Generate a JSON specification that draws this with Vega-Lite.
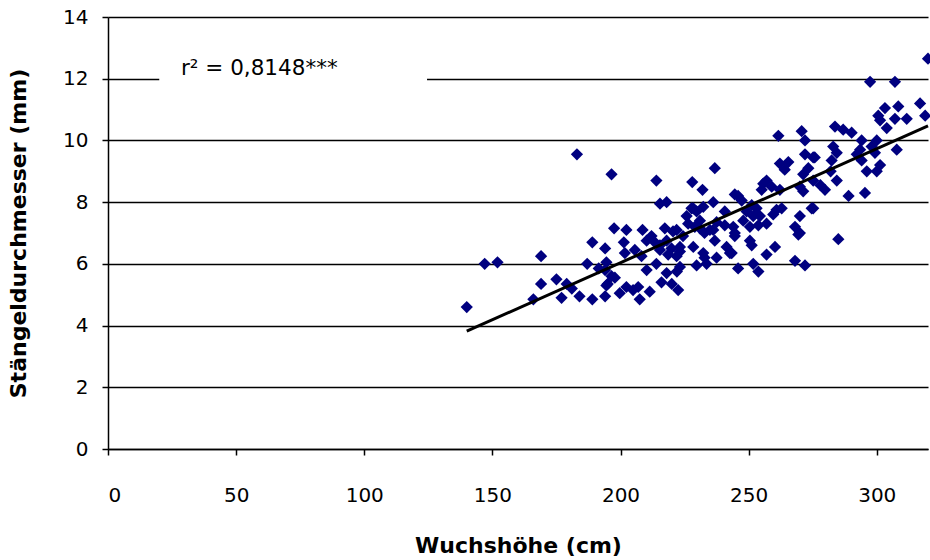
{
  "$schema": "https://vega.github.io/schema/vega-lite/v6.json",
  "width": 820,
  "height": 432,
  "autosize": {"type": "none"},
  "padding": {"left": 108, "top": 17, "right": 2, "bottom": 111},
  "background": "white",
  "config": {
    "view": {"stroke": null},
    "font": "DejaVu Sans",
    "axis": {
      "labelFont": "DejaVu Sans",
      "titleFont": "DejaVu Sans",
      "labelFontSize": 20,
      "titleFontSize": 22,
      "labelColor": "black",
      "titleColor": "black",
      "titleFontWeight": "bold",
      "domainColor": "black",
      "domainWidth": 1.5,
      "tickColor": "black",
      "tickWidth": 1.5,
      "tickSize": 6,
      "gridColor": "black",
      "gridWidth": 1.5,
      "gridOpacity": 1
    }
  },
  "datasets": {
    "trend": [{"h": 140, "d": 3.82}, {"h": 320, "d": 10.47}],
    "note": [{"label": "r² = 0,8148***", "x": 28.5, "y": 12.3}]
  },
  "data": {
    "values": [
      {"h": 140, "d": 4.6}, {"h": 147, "d": 6.0}, {"h": 152, "d": 6.05}, {"h": 166, "d": 4.85},
      {"h": 169, "d": 6.25}, {"h": 169, "d": 5.35}, {"h": 175, "d": 5.5}, {"h": 177, "d": 4.9},
      {"h": 179, "d": 5.35}, {"h": 181, "d": 5.2}, {"h": 183, "d": 9.55}, {"h": 184, "d": 4.95},
      {"h": 187, "d": 6.0}, {"h": 189, "d": 6.7}, {"h": 189, "d": 4.85}, {"h": 191.5, "d": 5.85},
      {"h": 194, "d": 6.5}, {"h": 194, "d": 4.95}, {"h": 194.5, "d": 6.05}, {"h": 195, "d": 5.35},
      {"h": 196.5, "d": 5.6}, {"h": 196.5, "d": 8.9}, {"h": 197.5, "d": 7.15}, {"h": 194, "d": 5.8},
      {"h": 194.5, "d": 5.3}, {"h": 197.8, "d": 5.55}, {"h": 199.7, "d": 5.05}, {"h": 202.3, "d": 5.25},
      {"h": 204.9, "d": 5.15}, {"h": 206.9, "d": 5.25}, {"h": 207.5, "d": 4.85}, {"h": 211.4, "d": 5.1},
      {"h": 210.2, "d": 5.8}, {"h": 208.2, "d": 6.25}, {"h": 214, "d": 6.0}, {"h": 216, "d": 5.4},
      {"h": 218, "d": 5.7}, {"h": 220, "d": 5.35}, {"h": 222.5, "d": 5.15}, {"h": 222, "d": 5.75},
      {"h": 218.6, "d": 6.3}, {"h": 223.2, "d": 5.9}, {"h": 202.3, "d": 7.1}, {"h": 208.6, "d": 7.1},
      {"h": 201.3, "d": 6.7}, {"h": 201.7, "d": 6.35}, {"h": 205.6, "d": 6.45}, {"h": 212.1, "d": 6.9},
      {"h": 213.4, "d": 6.7}, {"h": 210.2, "d": 6.75}, {"h": 215.4, "d": 6.45}, {"h": 221.9, "d": 7.1},
      {"h": 219.9, "d": 6.5}, {"h": 223.2, "d": 6.55}, {"h": 221.9, "d": 6.25}, {"h": 225.8, "d": 7.55},
      {"h": 227.7, "d": 7.8}, {"h": 229.7, "d": 7.7}, {"h": 231, "d": 7.4}, {"h": 229, "d": 7.2},
      {"h": 232.3, "d": 7.85}, {"h": 236.2, "d": 8.0}, {"h": 237.5, "d": 7.35}, {"h": 234.9, "d": 7.1},
      {"h": 229.7, "d": 5.95}, {"h": 233.6, "d": 6.0}, {"h": 237.5, "d": 6.2}, {"h": 214, "d": 8.7},
      {"h": 228, "d": 8.65}, {"h": 236.8, "d": 9.1}, {"h": 215.4, "d": 7.95}, {"h": 218, "d": 8.0},
      {"h": 232, "d": 8.4}, {"h": 217.3, "d": 7.15}, {"h": 218, "d": 6.75}, {"h": 215.4, "d": 6.6},
      {"h": 220.5, "d": 7.05}, {"h": 224.4, "d": 6.9}, {"h": 226.4, "d": 7.3}, {"h": 228.4, "d": 7.8},
      {"h": 231, "d": 7.15}, {"h": 232.8, "d": 7.0}, {"h": 236.8, "d": 6.75}, {"h": 228.4, "d": 6.55},
      {"h": 223.2, "d": 6.4}, {"h": 232.3, "d": 6.35}, {"h": 240.7, "d": 7.7}, {"h": 240.7, "d": 7.25},
      {"h": 244.6, "d": 7.0}, {"h": 241.4, "d": 6.55}, {"h": 243.4, "d": 6.35}, {"h": 244.6, "d": 8.25},
      {"h": 261.6, "d": 10.15}, {"h": 270.7, "d": 10.3}, {"h": 272, "d": 10.0}, {"h": 262.2, "d": 9.25},
      {"h": 265.5, "d": 9.3}, {"h": 264.1, "d": 9.05}, {"h": 272, "d": 9.55}, {"h": 275.2, "d": 9.45},
      {"h": 273.3, "d": 9.1}, {"h": 271.3, "d": 8.9}, {"h": 255.7, "d": 8.6}, {"h": 257, "d": 8.7},
      {"h": 255.1, "d": 8.4}, {"h": 259, "d": 8.5}, {"h": 262.2, "d": 8.4}, {"h": 271.3, "d": 8.35},
      {"h": 270, "d": 8.5}, {"h": 245.9, "d": 8.2}, {"h": 247.3, "d": 8.05}, {"h": 251.2, "d": 7.9},
      {"h": 253.1, "d": 7.8}, {"h": 249.2, "d": 7.7}, {"h": 251.8, "d": 7.55}, {"h": 254.4, "d": 7.55},
      {"h": 260.9, "d": 7.75}, {"h": 262.9, "d": 7.8}, {"h": 259.6, "d": 7.6}, {"h": 257, "d": 7.3},
      {"h": 253.8, "d": 7.25}, {"h": 247.9, "d": 7.4}, {"h": 250.5, "d": 7.2}, {"h": 275.2, "d": 7.8},
      {"h": 270, "d": 7.55}, {"h": 268.1, "d": 7.2}, {"h": 269.4, "d": 6.95}, {"h": 244, "d": 7.2},
      {"h": 244.6, "d": 6.9}, {"h": 236.2, "d": 7.1}, {"h": 250.5, "d": 6.75}, {"h": 251.2, "d": 6.6},
      {"h": 260.3, "d": 6.55}, {"h": 257, "d": 6.3}, {"h": 242.7, "d": 6.35}, {"h": 232.8, "d": 6.2},
      {"h": 245.9, "d": 5.85}, {"h": 251.8, "d": 6.0}, {"h": 253.8, "d": 5.75}, {"h": 268.1, "d": 6.1},
      {"h": 272, "d": 5.95}, {"h": 320, "d": 12.65}, {"h": 297.4, "d": 11.9}, {"h": 307.1, "d": 11.9},
      {"h": 316.9, "d": 11.2}, {"h": 318.9, "d": 10.8}, {"h": 303.2, "d": 11.05}, {"h": 308.4, "d": 11.1},
      {"h": 300.6, "d": 10.8}, {"h": 301.3, "d": 10.65}, {"h": 307.1, "d": 10.7}, {"h": 311.7, "d": 10.7},
      {"h": 303.9, "d": 10.4}, {"h": 283.7, "d": 10.45}, {"h": 286.9, "d": 10.35}, {"h": 290.2, "d": 10.25},
      {"h": 294.1, "d": 10.0}, {"h": 300, "d": 10.0}, {"h": 298, "d": 9.8}, {"h": 293.5, "d": 9.7},
      {"h": 307.8, "d": 9.7}, {"h": 283, "d": 9.8}, {"h": 284.4, "d": 9.6}, {"h": 275.8, "d": 9.45},
      {"h": 294.1, "d": 9.35}, {"h": 282.4, "d": 9.35}, {"h": 296.1, "d": 9.0}, {"h": 301.3, "d": 9.2},
      {"h": 292.2, "d": 9.55}, {"h": 299.3, "d": 9.6}, {"h": 300, "d": 9.0}, {"h": 284.4, "d": 8.7},
      {"h": 279.8, "d": 8.4}, {"h": 289, "d": 8.2}, {"h": 295.4, "d": 8.3}, {"h": 275.2, "d": 8.7},
      {"h": 274.6, "d": 7.8}, {"h": 285, "d": 6.8}, {"h": 270, "d": 7.0}, {"h": 278, "d": 8.55},
      {"h": 282, "d": 9.0}
    ]
  },
  "layer": [
    {
      "mark": {"type": "point", "shape": "diamond", "filled": true, "color": "#000080", "opacity": 1, "size": 150, "strokeWidth": 0},
      "encoding": {
        "x": {
          "field": "h", "type": "quantitative",
          "scale": {"domain": [0, 320], "nice": false},
          "axis": {"values": [0, 50, 100, 150, 200, 250, 300], "grid": false, "title": "Wuchshöhe (cm)", "labelPadding": 30, "titlePadding": 30}
        },
        "y": {
          "field": "d", "type": "quantitative",
          "scale": {"domain": [0, 14], "nice": false},
          "axis": {"values": [0, 2, 4, 6, 8, 10, 12, 14], "grid": true, "title": "Stängeldurchmesser (mm)", "labelPadding": 14, "titlePadding": 32}
        }
      }
    },
    {
      "data": {"name": "note"},
      "mark": {"type": "rect", "color": "white"},
      "encoding": {
        "x": {"datum": 20},
        "x2": {"datum": 124.5},
        "y": {"datum": 11.6},
        "y2": {"datum": 13.2}
      }
    },
    {
      "data": {"name": "note"},
      "mark": {"type": "text", "align": "left", "baseline": "middle", "fontSize": 21.5, "font": "DejaVu Sans", "color": "black"},
      "encoding": {
        "x": {"field": "x", "type": "quantitative"},
        "y": {"field": "y", "type": "quantitative"},
        "text": {"field": "label"}
      }
    },
    {
      "data": {"name": "trend"},
      "mark": {"type": "line", "color": "black", "strokeWidth": 3},
      "encoding": {
        "x": {"field": "h", "type": "quantitative"},
        "y": {"field": "d", "type": "quantitative"}
      }
    }
  ]
}
